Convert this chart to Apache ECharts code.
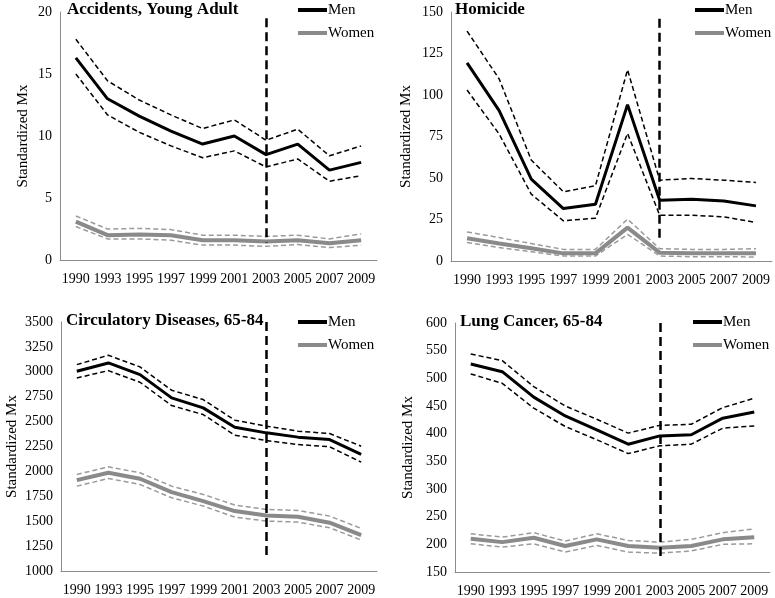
<!DOCTYPE html>
<html>
<head>
<meta charset="utf-8">
<script src="https://cdn.jsdelivr.net/npm/echarts@6/dist/echarts.min.js"></script>
<style>
html, body { margin: 0; padding: 0; background: #fff; }
#main { width: 775px; height: 598px; }
</style>
</head>
<body>
<div id="main"></div>
<script>
// 年份（类目轴）
var years = ['1990', '1993', '1995', '1997', '1999', '2001', '2003', '2005', '2007', '2009'];

// Accidents, Young Adult
var accMen      = [16.3, 13.0, 11.6, 10.4, 9.35, 10.0, 8.5, 9.35, 7.25, 7.87];
var accMenHi    = [17.8, 14.45, 12.9, 11.7, 10.6, 11.3, 9.66, 10.55, 8.4, 9.2];
var accMenLo    = [15.0, 11.7, 10.3, 9.2, 8.25, 8.8, 7.5, 8.15, 6.35, 6.8];
var accWomen    = [3.1, 2.0, 2.05, 2.0, 1.6, 1.6, 1.5, 1.6, 1.35, 1.6];
var accWomenHi  = [3.55, 2.5, 2.55, 2.45, 2.0, 2.0, 1.9, 2.0, 1.7, 2.1];
var accWomenLo  = [2.7, 1.7, 1.7, 1.6, 1.2, 1.2, 1.1, 1.25, 1.0, 1.2];

// Homicide
var homMen      = [119.4, 90.6, 49.3, 31.6, 34.2, 94.2, 36.6, 37.2, 36.2, 33.2];
var homMenHi    = [138.5, 109.7, 60.8, 41.7, 45.3, 115.2, 48.7, 49.7, 48.7, 47.3];
var homMenLo    = [103, 76.5, 40.3, 24.2, 25.8, 76.9, 27.6, 27.6, 26.6, 23.2];
var homWomen    = [13.7, 10.5, 7.7, 4.6, 4.6, 20.1, 5.0, 4.6, 4.6, 4.6];
var homWomenHi  = [17.5, 14.1, 10.5, 7.0, 7.0, 25.2, 7.4, 7.0, 7.0, 7.4];
var homWomenLo  = [11.1, 8.1, 5.6, 3.0, 3.0, 16.1, 3.0, 2.6, 2.6, 2.4];

// Circulatory Diseases, 65-84
var cirMen      = [3005, 3089, 2972, 2738, 2638, 2444, 2387, 2344, 2320, 2170];
var cirMenHi    = [3072, 3166, 3049, 2815, 2721, 2514, 2454, 2404, 2380, 2253];
var cirMenLo    = [2938, 3012, 2895, 2661, 2571, 2364, 2310, 2270, 2247, 2093];
var cirWomen    = [1912, 1986, 1926, 1792, 1702, 1602, 1558, 1545, 1485, 1361];
var cirWomenHi  = [1969, 2046, 1986, 1852, 1769, 1662, 1618, 1608, 1551, 1428];
var cirWomenLo  = [1852, 1929, 1869, 1735, 1652, 1541, 1501, 1491, 1434, 1311];

// Lung Cancer, 65-84
var lungMen     = [526, 512, 466, 432, 407, 381, 396, 398, 428, 439];
var lungMenHi   = [544, 532, 485, 450, 426, 401, 415, 417, 447, 464];
var lungMenLo   = [508, 491, 446, 413, 389, 364, 378, 381, 410, 414];
var lungWomen   = [210, 204, 212, 197, 209, 197, 194, 197, 209, 213];
var lungWomenHi = [219, 213, 221, 206, 219, 207, 204, 209, 221, 228];
var lungWomenLo = [201, 195, 201, 186, 198, 186, 184, 188, 200, 201];

// 纵轴范围 [min, max, interval] 和 2003 竖线的上下端
var accAxis = [0, 20, 5],        accCut = [19.5, 1.4];
var homAxis = [0, 150, 25],      homCut = [146, 11.5];
var cirAxis = [1000, 3500, 250], cirCut = [3500, 1110];
var lungAxis = [150, 600, 50],   lungCut = [600, 172];
var cutYear = '2003';

var panels = [
  { title: 'Accidents, Young Adult', axis: accAxis, cut: accCut,
    data: [accMen, accMenHi, accMenLo, accWomen, accWomenHi, accWomenLo],
    grid: { left: 60, top: 12, width: 317, height: 248 }, nameGap: 29,
    titlePos: [67, 1], legendPos: [298, 2] },
  { title: 'Homicide', axis: homAxis, cut: homCut,
    data: [homMen, homMenHi, homMenLo, homWomen, homWomenHi, homWomenLo],
    grid: { left: 451, top: 12, width: 321, height: 249 }, nameGap: 37,
    titlePos: [455, 1], legendPos: [695, 2] },
  { title: 'Circulatory Diseases, 65-84', axis: cirAxis, cut: cirCut,
    data: [cirMen, cirMenHi, cirMenLo, cirWomen, cirWomenHi, cirWomenLo],
    grid: { left: 61, top: 322, width: 316, height: 249 }, nameGap: 41,
    titlePos: [66, 312], legendPos: [298, 314] },
  { title: 'Lung Cancer, 65-84', axis: lungAxis, cut: lungCut,
    data: [lungMen, lungMenHi, lungMenLo, lungWomen, lungWomenHi, lungWomenLo],
    grid: { left: 455, top: 323, width: 315, height: 249 }, nameGap: 39,
    titlePos: [460, 313], legendPos: [693, 314] }
];

var FONT = 'Liberation Serif';
var MEN = '#000000', WOMEN = '#8a8a8a', WOMEN_CI = '#9a9a9a';

var option = {
  backgroundColor: '#fff',
  animation: false,
  title: [], legend: [], grid: [], xAxis: [], yAxis: [], series: []
};

panels.forEach(function (p, i) {
  option.grid.push(p.grid);
  option.title.push({
    text: p.title, left: p.titlePos[0], top: p.titlePos[1], padding: 0,
    textStyle: { fontFamily: FONT, fontSize: 17, fontWeight: 'bold', color: '#000' }
  });
  option.legend.push({
    data: ['Men', 'Women'], orient: 'vertical', left: p.legendPos[0], top: p.legendPos[1],
    padding: 0, itemGap: 7, itemWidth: 29, itemHeight: 4, icon: 'rect',
    selectedMode: false,
    textStyle: { fontFamily: FONT, fontSize: 15, color: '#000', lineHeight: 16, padding: [0, 0, 0, -4] }
  });
  option.xAxis.push({
    type: 'category', gridIndex: i, data: years, boundaryGap: true,
    axisLine: { lineStyle: { color: '#8c8c8c', width: 1 } },
    axisTick: { show: false },
    axisLabel: { interval: 0, margin: 12, fontFamily: FONT, fontSize: 14, color: '#000' },
    splitLine: { show: false }
  });
  option.yAxis.push({
    type: 'value', gridIndex: i, min: p.axis[0], max: p.axis[1], interval: p.axis[2],
    name: 'Standardized Mx', nameLocation: 'middle', nameGap: p.nameGap,
    nameTextStyle: { fontFamily: FONT, fontSize: 15, color: '#000' },
    axisLine: { show: true, lineStyle: { color: '#8c8c8c', width: 1 } },
    axisTick: { show: false },
    axisLabel: {
      margin: 8, fontFamily: FONT, fontSize: 14, color: '#000',
      formatter: function (v) { return String(v); }
    },
    splitLine: { show: false }
  });

  var styles = [
    { name: 'Men', color: MEN, width: 3, type: 'solid' },
    { name: 'Men upper', color: MEN, width: 1.5, type: [5, 3] },
    { name: 'Men lower', color: MEN, width: 1.5, type: [5, 3] },
    { name: 'Women', color: WOMEN, width: 4, type: 'solid' },
    { name: 'Women upper', color: WOMEN_CI, width: 1.5, type: [5, 3] },
    { name: 'Women lower', color: WOMEN_CI, width: 1.5, type: [5, 3] }
  ];
  styles.forEach(function (s, k) {
    var ser = {
      type: 'line', name: s.name, xAxisIndex: i, yAxisIndex: i,
      data: p.data[k], symbol: 'none', silent: true, clip: false,
      color: s.color, itemStyle: { color: s.color },
      lineStyle: { color: s.color, width: s.width, type: s.type },
      z: k === 0 || k === 3 ? 3 : 2
    };
    if (k === 0) {
      ser.markLine = {
        silent: true, symbol: 'none', label: { show: false },
        lineStyle: { color: '#000', width: 2.5, type: [9, 5] },
        data: [[{ coord: [cutYear, p.cut[0]] }, { coord: [cutYear, p.cut[1]] }]]
      };
    }
    option.series.push(ser);
  });
});

var myChart = echarts.init(document.getElementById('main'));
myChart.setOption(option);
</script>
</body>
</html>
